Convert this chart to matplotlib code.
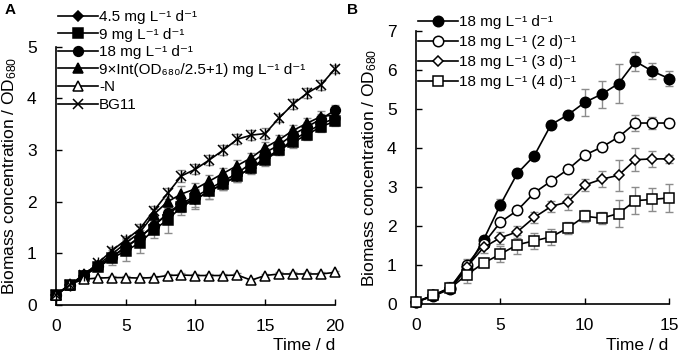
import matplotlib
matplotlib.use("Agg")
import matplotlib.pyplot as plt
import numpy as np

plt.rcParams['font.family'] = ['Liberation Sans', 'DejaVu Sans']
plt.rcParams['mathtext.default'] = 'regular'

# ---------------- Panel A data ----------------
days_a = list(range(21))
a_45 = [0.2,0.38,0.57,0.75,0.93,1.12,1.3,1.55,1.75,1.95,2.05,2.2,2.35,2.5,2.65,2.85,3.0,3.2,3.35,3.5,3.62]
a_9 = [0.2,0.38,0.57,0.73,0.9,1.05,1.2,1.45,1.65,1.9,2.05,2.2,2.35,2.5,2.65,2.8,3.0,3.15,3.3,3.45,3.56]
a_18 = [0.2,0.38,0.58,0.75,0.93,1.12,1.32,1.52,1.78,1.97,2.1,2.25,2.4,2.55,2.75,2.95,3.1,3.3,3.45,3.6,3.77]
a_int = [0.2,0.38,0.6,0.78,0.98,1.2,1.4,1.75,2.0,2.15,2.25,2.4,2.55,2.7,2.85,3.05,3.2,3.38,3.52,3.65,3.68]
a_n = [0.2,0.4,0.5,0.52,0.53,0.53,0.52,0.53,0.57,0.58,0.57,0.57,0.57,0.58,0.48,0.57,0.6,0.6,0.6,0.6,0.63]
a_bg = [0.2,0.39,0.58,0.81,1.05,1.26,1.47,1.82,2.16,2.5,2.63,2.81,3.0,3.21,3.29,3.32,3.62,3.89,4.1,4.26,4.57]

e_45 = [0.02,0.03,0.05,0.08,0.1,0.15,0.15,0.12,0.15,0.15,0.15,0.15,0.12,0.12,0.12,0.12,0.1,0.1,0.1,0.1,0.1]
e_9 = [0.02,0.03,0.05,0.08,0.12,0.2,0.2,0.15,0.25,0.15,0.2,0.15,0.12,0.12,0.1,0.1,0.1,0.1,0.1,0.1,0.1]
e_18 = [0.02,0.03,0.05,0.05,0.08,0.1,0.1,0.1,0.1,0.12,0.12,0.12,0.1,0.1,0.1,0.1,0.1,0.1,0.1,0.1,0.1]
e_int = [0.02,0.03,0.05,0.05,0.08,0.1,0.12,0.1,0.12,0.15,0.12,0.12,0.1,0.1,0.1,0.1,0.1,0.1,0.1,0.1,0.1]
e_n = [0.02,0.02,0.03,0.03,0.03,0.03,0.03,0.03,0.03,0.03,0.03,0.03,0.03,0.03,0.03,0.03,0.03,0.03,0.03,0.03,0.03]
e_bg = [0.02,0.03,0.05,0.05,0.08,0.08,0.1,0.1,0.1,0.12,0.1,0.1,0.1,0.1,0.1,0.1,0.08,0.1,0.1,0.1,0.08]

labels_a = ["4.5 mg L⁻¹ d⁻¹", "9 mg L⁻¹ d⁻¹", "18 mg L⁻¹ d⁻¹",
            "9×Int(OD₆₈₀/2.5+1) mg L⁻¹ d⁻¹", "-N", "BG11"]

# ---------------- Panel B data ----------------
days_b = list(range(16))
b_1 = [0.05,0.2,0.38,0.9,1.65,2.55,3.35,3.8,4.6,4.85,5.17,5.38,5.65,6.22,5.97,5.78]
b_2 = [0.05,0.22,0.4,1.0,1.55,2.1,2.4,2.85,3.15,3.45,3.82,4.02,4.28,4.64,4.64,4.64]
b_3 = [0.05,0.22,0.42,0.95,1.45,1.7,1.85,2.22,2.5,2.62,3.05,3.2,3.3,3.7,3.72,3.72]
b_4 = [0.05,0.22,0.4,0.75,1.05,1.28,1.52,1.62,1.72,1.95,2.25,2.2,2.32,2.65,2.68,2.72]
eb_1 = [0.02,0.05,0.1,0.15,0.1,0.15,0.1,0.08,0.1,0.1,0.35,0.35,0.5,0.25,0.2,0.2]
eb_2 = [0.02,0.05,0.1,0.15,0.1,0.1,0.1,0.1,0.1,0.1,0.1,0.1,0.1,0.2,0.15,0.1]
eb_3 = [0.02,0.05,0.15,0.15,0.15,0.15,0.15,0.15,0.15,0.2,0.15,0.2,0.4,0.3,0.2,0.1]
eb_4 = [0.02,0.05,0.1,0.2,0.1,0.2,0.25,0.2,0.2,0.15,0.15,0.15,0.35,0.35,0.3,0.35]
labels_b = ["18 mg L⁻¹ d⁻¹", "18 mg L⁻¹ (2 d)⁻¹", "18 mg L⁻¹ (3 d)⁻¹", "18 mg L⁻¹ (4 d)⁻¹"]

fig = plt.figure(figsize=(6.8, 3.55), dpi=100)
FS = 12.5
LFS = 11
grey = '#8c8c8c'

def style(ax, xmax, ymax, xt, yt):
    ax.set_xlim(0, xmax)
    ax.set_ylim(0, ymax)
    ax.spines['top'].set_visible(False)
    ax.spines['right'].set_visible(False)
    ax.set_xticks(xt)
    ax.set_yticks(yt)
    ax.tick_params(direction='in', length=4, labelsize=FS, width=1)
    ax.tick_params(axis='x', pad=10)
    ax.tick_params(axis='y', pad=14)
    for s in ['left', 'bottom']:
        ax.spines[s].set_linewidth(1.2)

def stacked_legend(handles, labels, x_px, y0_px, dy_px):
    for i, (h, lab) in enumerate(zip(handles, labels)):
        fig.legend(handles=[h], labels=[lab], loc='center left',
                   bbox_to_anchor=(x_px/680, 1 - (y0_px + i*dy_px)/355),
                   frameon=False, fontsize=LFS, handlelength=2.6, handletextpad=0.1,
                   borderaxespad=0, borderpad=0)

# Panel A
axA = fig.add_axes([0.0824, 0.141, 0.41, 0.727])
series_a = [(a_45, e_45, 'D', 'black', 5), (a_9, e_9, 's', 'black', 6.5), (a_18, e_18, 'o', 'black', 7),
            (a_int, e_int, '^', 'black', 7), (a_n, e_n, '^', 'white', 7.5), (a_bg, e_bg, 'x', 'black', 7)]
handles = []
for (y, e, m, fc, ms), lab in zip(series_a, labels_a):
    axA.errorbar(days_a, y, yerr=e, fmt='none', ecolor=grey, elinewidth=1, capsize=3, capthick=1, clip_on=False, zorder=2)
    h, = axA.plot(days_a, y, color='black', lw=1.2, marker=m, ms=ms, mfc=fc, mec='black', mew=1.1,
                  clip_on=False, zorder=3, label=lab)
    if m == 'x':
        axA.plot(days_a, y, ls='none', marker='|', ms=ms + 1, mec='black', mew=1.0, clip_on=False, zorder=3)
    handles.append(h)
style(axA, 20, 5, [0, 5, 10, 15, 20], [0, 1, 2, 3, 4, 5])
axA.set_ylabel(r"Biomass concentration / OD$_{680}$", fontsize=FS, labelpad=6)
fig.text(335/680, 1 - 345/355, "Time / d", ha='right', va='center', fontsize=FS)
stacked_legend(handles, labels_a, 58, 17, 17.6)
fig.text(5/680, 1 - 10/355, "A", fontsize=11, fontweight='bold', va='center', ha='left')

# Panel B
axB = fig.add_axes([0.612, 0.1437, 0.372, 0.769])
series_b = [(b_1, eb_1, 'o', 'black', 7.5), (b_2, eb_2, 'o', 'white', 7.5), (b_3, eb_3, 'D', 'white', 5),
            (b_4, eb_4, 's', 'white', 7)]
hb = []
for (y, e, m, fc, ms), lab in zip(series_b, labels_b):
    axB.errorbar(days_b, y, yerr=e, fmt='none', ecolor=grey, elinewidth=1, capsize=3, capthick=1, clip_on=False, zorder=2)
    h, = axB.plot(days_b, y, color='black', lw=1.2, marker=m, ms=ms, mfc=fc, mec='black', mew=1.1,
                  clip_on=False, zorder=3, label=lab)
    hb.append(h)
style(axB, 15, 7, [0, 5, 10, 15], [0, 1, 2, 3, 4, 5, 6, 7])
axB.set_ylabel(r"Biomass concentration / OD$_{680}$", fontsize=FS, labelpad=6)
fig.text(668/680, 1 - 345/355, "Time / d", ha='right', va='center', fontsize=FS)
stacked_legend(hb, labels_b, 418, 22, 20)
fig.text(347/680, 1 - 10/355, "B", fontsize=11, fontweight='bold', va='center', ha='left')

fig.savefig("out.png", dpi=100)
